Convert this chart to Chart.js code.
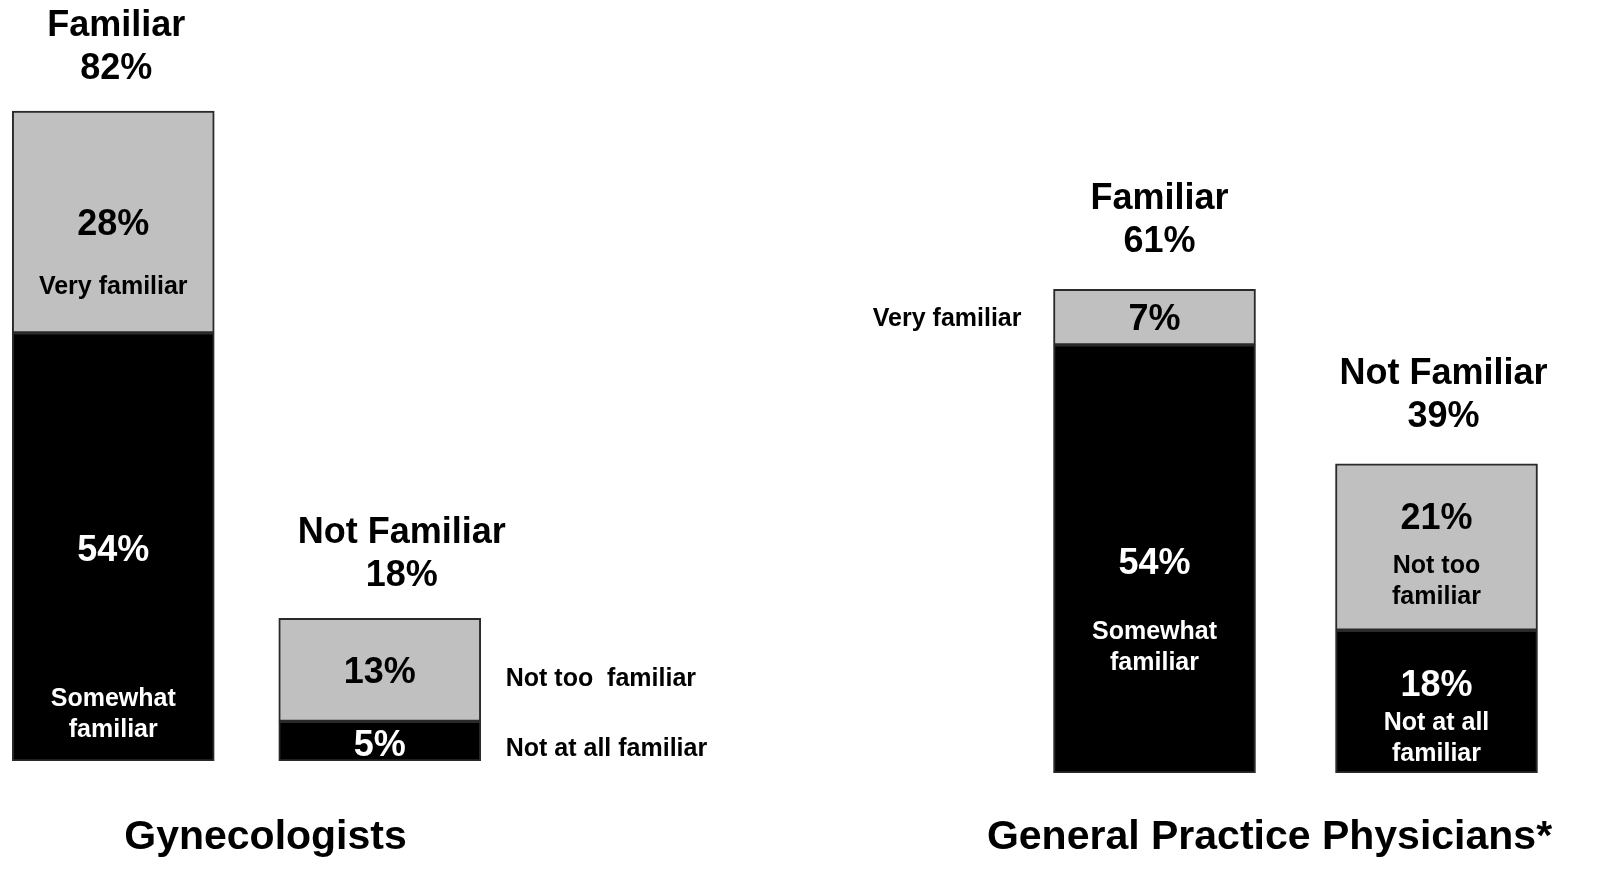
<!DOCTYPE html>
<html>
<head>
<meta charset="utf-8">
<script src="https://cdn.jsdelivr.net/npm/chart.js@4.4.1/dist/chart.umd.min.js"></script>
<style>
    body { margin: 0; background: #fff; overflow: hidden; width: 1602px; height: 877px; position: relative; }
    .box { position: absolute; top: 0; height: 877px; }
</style>
</head>
<body>
<div class="box" style="left:-20px; width:760px;"><canvas id="gyn"></canvas></div>
<div class="box" style="left:850px; width:752px;"><canvas id="gp"></canvas></div>
<script>
// data
const groups = ['Gynecologists', 'General Practice Physicians*'];
const cats = ['Familiar', 'Not Familiar'];

const gynTotals = [82, 18];
const gynBottom = [54, 5];
const gynTop = [28, 13];
const gynBottomNotes = [['Somewhat', 'familiar'], ['Not at all familiar']];
const gynTopNotes = [['Very familiar'], ['Not too  familiar']];

const gpTotals = [61, 39];
const gpBottom = [54, 18];
const gpTop = [7, 21];
const gpBottomNotes = [['Somewhat', 'familiar'], ['Not at all', 'familiar']];
const gpTopNotes = [['Very familiar'], ['Not too', 'familiar']];

const FONT = '"Liberation Sans", Arial, sans-serif';
const SHIFT = 4; // 'middle' baseline sits a little high for digits/caps

function drawLines(ctx, lines, x, y, lh) {
    lines.forEach((t, k) => ctx.fillText(t, x, y + SHIFT + k * lh));
}

const textPlugin = {
    id: 'barText',
    afterDatasetsDraw(chart) {
        const cfg = chart.options.plugins.barText;
        const ctx = chart.ctx;
        ctx.save();
        ctx.textBaseline = 'middle';

        // headings above each stack
        const topMeta = chart.getDatasetMeta(1).data;
        cfg.totals.forEach((tot, i) => {
            const bar = topMeta[i];
            const cx = bar.x + cfg.headDx[i];
            ctx.fillStyle = '#000';
            ctx.textAlign = 'center';
            ctx.font = 'bold 36px ' + FONT;
            drawLines(ctx, [cats[i], tot + '%'], cx, bar.y - cfg.headGap - 43, 43);
        });

        // segment values and notes
        chart.data.datasets.forEach((ds, d) => {
            chart.getDatasetMeta(d).data.forEach((bar, i) => {
                const s = cfg.segs[d][i];
                const mid = (bar.y + bar.base) / 2;
                const half = bar.width / 2;
                ctx.fillStyle = ds.textColor;
                ctx.textAlign = 'center';
                ctx.font = 'bold 36px ' + FONT;
                drawLines(ctx, [ds.data[i] + '%'], bar.x, mid + s.vDy, 0);

                ctx.font = 'bold 25px ' + FONT;
                const notes = ds.notes[i];
                if (s.pos === 'in') {
                    drawLines(ctx, notes, bar.x, mid + s.nDy, 31);
                } else if (s.pos === 'right') {
                    ctx.fillStyle = '#000';
                    ctx.textAlign = 'left';
                    drawLines(ctx, notes, bar.x + half + 25, mid + s.nDy, 31);
                } else {
                    ctx.fillStyle = '#000';
                    ctx.textAlign = 'right';
                    drawLines(ctx, notes, bar.x - half - 32, mid + s.nDy, 31);
                }
            });
        });

        // group title under the pair
        ctx.fillStyle = '#000';
        ctx.textAlign = 'center';
        ctx.font = 'bold 41px ' + FONT;
        const a = chart.chartArea;
        drawLines(ctx, [cfg.title], (a.left + a.right) / 2 + cfg.titleDx, 834, 0);
        ctx.restore();
    }
};

function makeChart(id, bottom, top, bottomNotes, topNotes, totals, opts) {
    return new Chart(document.getElementById(id), {
        type: 'bar',
        data: {
            labels: cats,
            datasets: [{
                data: bottom,
                notes: bottomNotes,
                backgroundColor: '#000000',
                textColor: '#ffffff',
                borderColor: '#2a2a2a',
                borderWidth: 2,
                borderSkipped: false,
                barThickness: 202
            }, {
                data: top,
                notes: topNotes,
                backgroundColor: '#c0c0c0',
                textColor: '#000000',
                borderColor: '#2a2a2a',
                borderWidth: 2,
                borderSkipped: false,
                barThickness: 202
            }]
        },
        options: {
            responsive: true,
            maintainAspectRatio: false,
            animation: false,
            layout: { padding: opts.padding },
            scales: {
                x: { stacked: true, display: false },
                y: { stacked: true, display: false, min: 0, max: opts.max }
            },
            plugins: {
                legend: { display: false },
                tooltip: { enabled: false },
                barText: {
                    title: opts.title,
                    titleDx: opts.titleDx,
                    totals: totals,
                    headDx: opts.headDx,
                    headGap: opts.headGap,
                    segs: opts.segs
                }
            }
        },
        plugins: [textPlugin]
    });
}

makeChart('gyn', gynBottom, gynTop, gynBottomNotes, gynTopNotes, gynTotals, {
    title: groups[0],
    titleDx: 19,
    max: 96,
    padding: { left: 0, right: 227, top: 0, bottom: 116 },
    headDx: [3, 22],
    headGap: 46,
    segs: [
        [{ vDy: 0, pos: 'in', nDy: 148 }, { vDy: 1, pos: 'right', nDy: 4 }],
        [{ vDy: -1, pos: 'in', nDy: 61 }, { vDy: -1, pos: 'right', nDy: 5 }]
    ]
});

makeChart('gp', gpBottom, gpTop, gpBottomNotes, gpTopNotes, gpTotals, {
    title: groups[1],
    titleDx: -26,
    max: 97.5,
    padding: { left: 163.5, right: 24.5, top: 0, bottom: 104 },
    headDx: [5, 7],
    headGap: 51,
    segs: [
        [{ vDy: 1, pos: 'in', nDy: 69 }, { vDy: -20, pos: 'in', nDy: 17 }],
        [{ vDy: -1, pos: 'left', nDy: -2 }, { vDy: -32, pos: 'in', nDy: 15 }]
    ]
});
</script>
</body>
</html>
